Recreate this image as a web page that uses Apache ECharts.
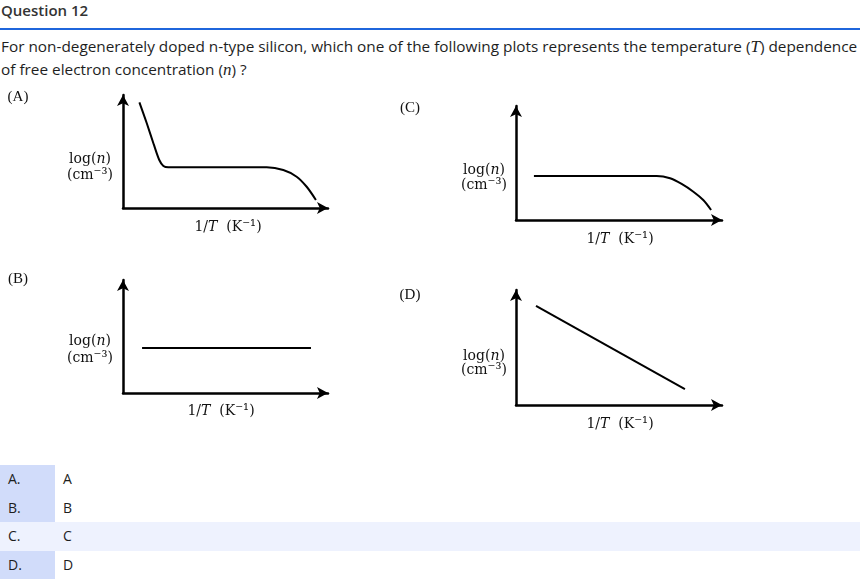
<!DOCTYPE html>
<html><head><meta charset="utf-8">
<script src="https://cdn.jsdelivr.net/npm/echarts/dist/echarts.min.js"></script>
<style>
html,body{margin:0;padding:0;width:860px;height:579px;overflow:hidden;background:#fff;font-family:"Open Sans",sans-serif;color:#1e1e1e;}
#hdr{position:absolute;left:1px;top:0;font-size:15px;font-weight:600;line-height:20px;color:#333;}
#rule{position:absolute;left:0;top:28px;width:860px;height:2px;background:#1f66dc;}
#q{position:absolute;left:1px;top:35px;font-size:15.35px;line-height:22px;white-space:nowrap;}
.m{font-family:"Liberation Serif",serif;font-style:italic;font-size:17px;}
#ans{position:absolute;left:0;top:465px;width:860px;}
.row{height:28.6px;line-height:28.6px;position:relative;font-size:14px;}
.row.hl{background:#eef2fe;}
.row .l{position:absolute;left:0;top:0;width:55px;height:100%;background:#d1dcfa;}
.row.hl .l{background:#eef2fe;}
.row .k{position:absolute;left:8px;top:0;}
.row .v{position:absolute;left:63px;top:0;}
#chart{position:absolute;left:0;top:0;width:860px;height:579px;pointer-events:none;}
</style>
</head><body>
<div id="hdr">Question 12</div>
<div id="rule"></div>
<div id="q">For non-degenerately doped n-type silicon, which one of the following plots represents the temperature (<span class="m">T</span>) dependence<br>of free electron concentration (<span class="m">n</span>) ?</div>
<div id="ans"></div>
<div id="chart"></div>
<script>
// Option keys and texts
const optionKeys = ['A.', 'B.', 'C.', 'D.'];
const optionTexts = ['A', 'B', 'C', 'D'];
const panelNames = ['(A)', '(B)', '(C)', '(D)'];

// Schematic curves (x: 1/T in arbitrary units 0-100, y: log(n) in arbitrary units 0-100)
const curveA_x = [8.0, 11.6, 15.1, 17.7, 19.7, 22.1, 70.1, 78.2, 84.7, 89.6, 94.1];
const curveA_y = [93.5, 75.0, 55.8, 42.5, 37.2, 36.0, 36.0, 33.6, 27.7, 18.8, 7.1];
const curveB_x = [9.3, 91.7];
const curveB_y = [39.8, 39.8];
const curveC_x = [8.7, 68.3, 74.8, 80.4, 86.1, 90.9, 94.7];
const curveC_y = [38.6, 38.6, 36.6, 31.6, 24.8, 17.5, 8.8];
const curveD_x = [9.7, 82.0];
const curveD_y = [86.1, 13.9];

// answers table
const ans = document.getElementById('ans');
optionKeys.forEach((k, i) => {
  const r = document.createElement('div');
  r.className = 'row' + (i === 2 ? ' hl' : '');
  r.innerHTML = '<div class="l"></div><span class="k">' + k + '</span><span class="v">' + optionTexts[i] + '</span>';
  ans.appendChild(r);
});

const zip = (xs, ys) => xs.map((x, i) => [x, ys[i]]);
const curves = [
  {x: curveA_x, y: curveA_y, smooth: 0.3},
  {x: curveB_x, y: curveB_y, smooth: false},
  {x: curveC_x, y: curveC_y, smooth: 0.3},
  {x: curveD_x, y: curveD_y, smooth: false}
];
const grids = [
  {left: 123, top: 95, width: 205, height: 113},
  {left: 123, top: 280, width: 205, height: 113},
  {left: 516, top: 106, width: 206, height: 114},
  {left: 516, top: 290, width: 206, height: 115}
];
const axisLine = {show: true, symbol: ['none', 'arrow'], symbolSize: [9, 11],
  lineStyle: {color: '#000', width: 2.5}};
const axisCommon = {type: 'value', min: 0, max: 100, axisLine: axisLine,
  axisTick: {show: false}, axisLabel: {show: false}, splitLine: {show: false}};

const serif = '"DejaVu Serif", "Liberation Serif", serif';
const rich = {
  a: {fontFamily: serif, fontSize: 14, color: '#111'},
  s: {fontFamily: serif, fontSize: 15, color: '#111'},
  i: {fontFamily: serif, fontSize: 14, fontStyle: 'italic', color: '#111'}
};
// label anchors (centres) per panel
const labelPos = [
  {name: [18, 97], y1: [90, 159], y2: [90, 175], x: [228, 227]},
  {name: [18, 279], y1: [90, 341], y2: [90, 358], x: [221, 411]},
  {name: [410, 108], y1: [484, 170], y2: [484, 185], x: [620, 239]},
  {name: [410, 295], y1: [484, 356], y2: [484, 370], x: [620, 424]}
];
const graphics = [];
labelPos.forEach((p, i) => {
  const t = (pos, text) => ({type: 'text', x: pos[0], y: pos[1],
    style: {text: text, rich: rich, fontFamily: serif, fontSize: 14, fill: '#111',
      align: 'center', verticalAlign: 'middle'}});
  graphics.push({type: 'text', x: p.name[0], y: p.name[1],
    style: {text: panelNames[i], fontFamily: '"Liberation Serif", serif', fontSize: 15, fill: '#111',
      align: 'center', verticalAlign: 'middle'}});
  graphics.push(t(p.y1, '{a|log(}{i|n}{a|)}'));
  graphics.push(t(p.y2, '{a|(cm}{s|⁻³}{a|)}'));
  graphics.push(t(p.x, '{a|1/}{i|T}{a|  (K}{s|⁻¹}{a|)}'));
});

const chart = echarts.init(document.getElementById('chart'), null, {renderer: 'canvas'});
chart.setOption({
  animation: false,
  backgroundColor: 'transparent',
  grid: grids,
  xAxis: grids.map((g, i) => Object.assign({gridIndex: i}, axisCommon)),
  yAxis: grids.map((g, i) => Object.assign({gridIndex: i}, axisCommon)),
  series: curves.map((c, i) => ({
    type: 'line', xAxisIndex: i, yAxisIndex: i, data: zip(c.x, c.y),
    smooth: c.smooth, showSymbol: false, symbol: 'none',
    lineStyle: {color: '#000', width: 2}
  })),
  graphic: graphics
});
</script>
</body></html>
